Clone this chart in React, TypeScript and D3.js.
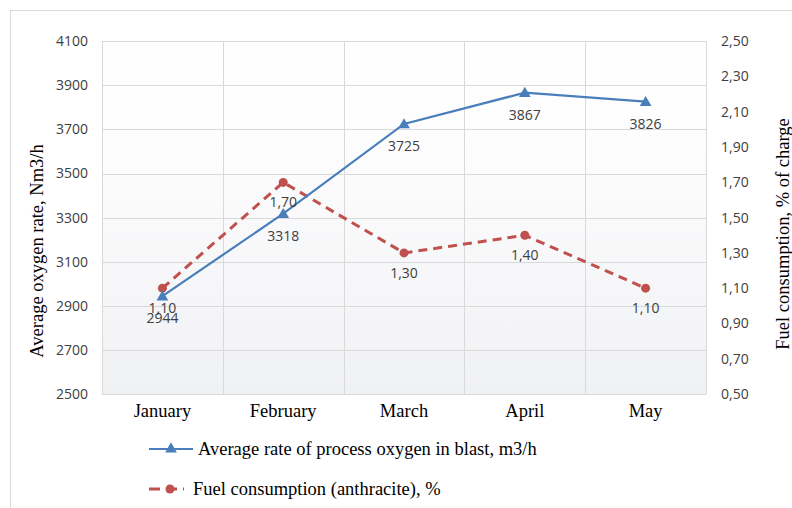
import React from "react";
import * as d3 from "d3";

const months = ["January", "February", "March", "April", "May"];
const oxygen = [2944, 3318, 3725, 3867, 3826];
const fuel = [1.1, 1.7, 1.3, 1.4, 1.1];
const leftTicks = [2500, 2700, 2900, 3100, 3300, 3500, 3700, 3900, 4100];
const rightTicks = [0.5, 0.7, 0.9, 1.1, 1.3, 1.5, 1.7, 1.9, 2.1, 2.3, 2.5];
const seriesNames = [
  "Average rate of process oxygen in blast, m3/h",
  "Fuel consumption (anthracite), %",
];
const leftTitle = "Average oxygen rate, Nm3/h";
const rightTitle = "Fuel consumption, % of charge";

const W = 792;
const H = 508;
const plot = { left: 102, right: 706, top: 41.3, bottom: 394 };
const blue = "#4a7ebb";
const red = "#c0504d";
const tickFont = "'Open Sans', 'Noto Sans', sans-serif";
const serif = "'Liberation Serif', 'Times New Roman', serif";
const fmt = (v: number) => v.toFixed(2).replace(".", ",");

export default function App() {
  const x = d3.scaleBand<string>().domain(months).range([plot.left, plot.right]);
  const yL = d3.scaleLinear().domain([2500, 4100]).range([plot.bottom, plot.top]);
  const yR = d3.scaleLinear().domain([0.5, 2.5]).range([plot.bottom, plot.top]);
  const cx = (m: string) => (x(m) as number) + x.bandwidth() / 2;

  const lineO = d3
    .line<number>()
    .x((_, i) => cx(months[i]))
    .y((d) => yL(d));
  const lineF = d3
    .line<number>()
    .x((_, i) => cx(months[i]))
    .y((d) => yR(d));

  const tri = d3.symbol().type(d3.symbolTriangle).size(60)() as string;

  return (
    <svg
      width={W}
      height={H}
      style={{ position: "absolute", left: 0, top: 0, background: "#fff" }}
    >
      <defs>
        <linearGradient id="bg" x1="0" y1="0" x2="0" y2="1">
          <stop offset="0" stopColor="#ffffff" />
          <stop offset="0.3" stopColor="#fdfdfe" />
          <stop offset="1" stopColor="#f0f1f3" />
        </linearGradient>
      </defs>
      <rect x={10.5} y={10.5} width={W + 10} height={H + 10} fill="#fff" stroke="#d9d9d9" />
      <rect
        x={plot.left}
        y={plot.top}
        width={plot.right - plot.left}
        height={plot.bottom - plot.top}
        fill="url(#bg)"
      />
      {leftTicks.map((t) => (
        <line
          key={"h" + t}
          x1={plot.left}
          x2={plot.right}
          y1={Math.round(yL(t)) + 0.5}
          y2={Math.round(yL(t)) + 0.5}
          stroke="#d9d9d9"
        />
      ))}
      {months.map((m) => (
        <line
          key={"v" + m}
          x1={Math.round(x(m) as number) + 0.5}
          x2={Math.round(x(m) as number) + 0.5}
          y1={plot.top}
          y2={plot.bottom}
          stroke="#d9d9d9"
        />
      ))}
      <line
        x1={plot.right + 0.5}
        x2={plot.right + 0.5}
        y1={plot.top}
        y2={plot.bottom}
        stroke="#d9d9d9"
      />
      {leftTicks.map((t) => (
        <text
          key={"lt" + t}
          x={88}
          y={yL(t)}
          dy="0.35em"
          textAnchor="end"
          fontFamily={tickFont}
          fontSize={14}
          fill="#404040"
        >
          {t}
        </text>
      ))}
      {rightTicks.map((t) => (
        <text
          key={"rt" + t}
          x={721}
          y={yR(t)}
          dy="0.35em"
          textAnchor="start"
          fontFamily={tickFont}
          fontSize={14}
          fill="#404040"
        >
          {fmt(t)}
        </text>
      ))}
      {months.map((m) => (
        <text
          key={"c" + m}
          x={cx(m)}
          y={417}
          textAnchor="middle"
          fontFamily={serif}
          fontSize={18.5}
          fill="#000"
        >
          {m}
        </text>
      ))}
      <text
        transform={`translate(43,251) rotate(-90)`}
        textAnchor="middle"
        fontFamily={serif}
        fontSize={18.5}
      >
        {leftTitle}
      </text>
      <text
        transform={`translate(789,234) rotate(-90)`}
        textAnchor="middle"
        fontFamily={serif}
        fontSize={18.5}
      >
        {rightTitle}
      </text>

      <path d={lineF(fuel) as string} fill="none" stroke={red} strokeWidth={3} strokeDasharray="9,6" />
      <path d={lineO(oxygen) as string} fill="none" stroke={blue} strokeWidth={2.2} />
      {fuel.map((v, i) => (
        <circle key={"fd" + i} cx={cx(months[i])} cy={yR(v)} r={4.5} fill={red} />
      ))}
      {oxygen.map((v, i) => (
        <path
          key={"od" + i}
          d={tri}
          transform={`translate(${cx(months[i])},${yL(v) + 1})`}
          fill={blue}
        />
      ))}
      {fuel.map((v, i) => (
        <text
          key={"fl" + i}
          x={cx(months[i])}
          y={yR(v) + 20}
          dy="0.35em"
          textAnchor="middle"
          fontFamily={tickFont}
          fontSize={14}
          fill="#404040"
        >
          {fmt(v)}
        </text>
      ))}
      {oxygen.map((v, i) => (
        <text
          key={"ol" + i}
          x={cx(months[i])}
          y={yL(v) + 22}
          dy="0.35em"
          textAnchor="middle"
          fontFamily={tickFont}
          fontSize={14}
          fill="#404040"
        >
          {v}
        </text>
      ))}

      <line x1={149} x2={193} y1={449} y2={449} stroke={blue} strokeWidth={2.2} />
      <path d={tri} transform="translate(171,449)" fill={blue} />
      <text x={198} y={449} dy="0.32em" fontFamily={serif} fontSize={18.5}>
        {seriesNames[0]}
      </text>
      <line x1={149} x2={184} y1={489} y2={489} stroke={red} strokeWidth={3} strokeDasharray="11,6" />
      <circle cx={170} cy={489} r={4.5} fill={red} />
      <text x={193} y={489} dy="0.32em" fontFamily={serif} fontSize={18.5}>
        {seriesNames[1]}
      </text>
    </svg>
  );
}
